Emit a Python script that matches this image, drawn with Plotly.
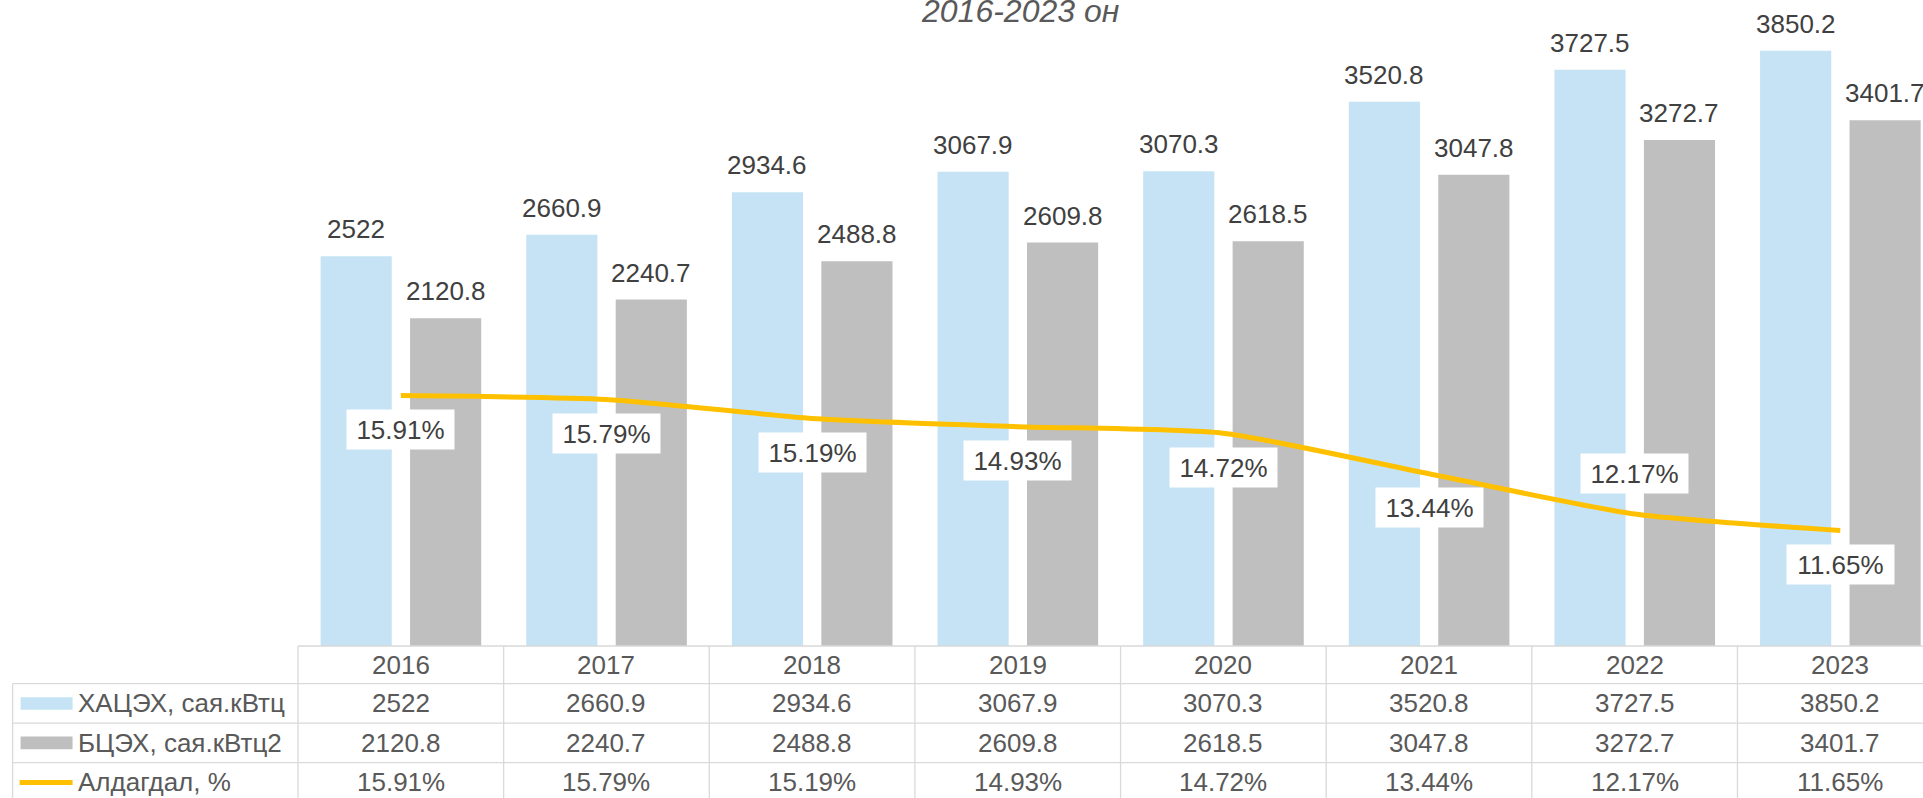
import plotly.graph_objects as go

# ---------------- data ----------------
years = [2016, 2017, 2018, 2019, 2020, 2021, 2022, 2023]
hatseh = [2522, 2660.9, 2934.6, 3067.9, 3070.3, 3520.8, 3727.5, 3850.2]
btseh = [2120.8, 2240.7, 2488.8, 2609.8, 2618.5, 3047.8, 3272.7, 3401.7]
loss_pct = [15.91, 15.79, 15.19, 14.93, 14.72, 13.44, 12.17, 11.65]
series_names = ["ХАЦЭХ, сая.кВтц", "БЦЭХ, сая.кВтц2", "Алдагдал, %"]
title_text = "2016-2023 он"

# ---------------- geometry / style ----------------
W, H = 1923, 798
PLOT_LEFT = 297.5
PLOT_BOTTOM = 646.3
CAT_PX = 205.7
X_MIN = years[0] - 0.5
X_MAX = X_MIN + (W - PLOT_LEFT) / CAT_PX
Y1_PX = 0.15466
Y2_PX = 31.67
Y2_MIN = 8.0

BLUE = "#C5E3F4"
GRAY = "#BFBFBF"
GOLD = "#FFC000"
GRID = "#D9D9D9"
TXT = "#404040"
FONT = "Liberation Sans, Arial, sans-serif"
FS = 26

BAR_W = 0.346
OFF_A = -0.390
OFF_B = 0.045
loss_label_shift = [-34, -34, -34, -34, -34, -34, 41, -34]


def px_x(px):
    return (px - PLOT_LEFT) / (W - PLOT_LEFT)


def px_y(py):
    return (PLOT_BOTTOM - py) / PLOT_BOTTOM


fig = go.Figure()
fig.add_bar(x=years, y=hatseh, width=BAR_W, offset=OFF_A, name=series_names[0],
            marker=dict(color=BLUE, line=dict(width=0)))
fig.add_bar(x=years, y=btseh, width=BAR_W, offset=OFF_B, name=series_names[1],
            marker=dict(color=GRAY, line=dict(width=0)))
fig.add_scatter(x=years, y=loss_pct, yaxis="y2", mode="lines", name=series_names[2],
                line=dict(color=GOLD, width=5, shape="spline", smoothing=0.6))

ann = []
font = dict(family=FONT, size=FS, color=TXT)
# bar value labels
for vals, off in ((hatseh, OFF_A), (btseh, OFF_B)):
    for yr, v in zip(years, vals):
        ann.append(dict(x=yr + off + BAR_W / 2, y=v, xref="x", yref="y", text=f"{v:g}",
                        showarrow=False, yanchor="middle", yshift=27, font=font))
# percent labels
for yr, p, sh in zip(years, loss_pct, loss_label_shift):
    ann.append(dict(x=yr, y=p, xref="x", yref="y2", text=f"{p:.2f}%", showarrow=False,
                    yanchor="middle", yshift=sh, font=font, bgcolor="white",
                    width=103, height=35, borderpad=2))

# title
ann.append(dict(x=px_x(1019.5), y=px_y(11.5), xref="paper", yref="paper",
                text=f"<i>{title_text}</i>", showarrow=False, xanchor="center", yanchor="middle",
                font=dict(family=FONT, size=32, color="#595959")))

# data table
row_lines = [646.3, 684.0, 723.5, 763.0, 802.5]
centers = [(row_lines[i] + row_lines[i + 1]) / 2 for i in range(4)]
table_rows = [
    [str(y) for y in years],
    [f"{v:g}" for v in hatseh],
    [f"{v:g}" for v in btseh],
    [f"{p:.2f}%" for p in loss_pct],
]
TFONT = dict(family=FONT, size=FS, color="#595959")
for r, row in enumerate(table_rows):
    for yr, t in zip(years, row):
        ann.append(dict(x=yr, y=px_y(centers[r]), xref="x", yref="paper", text=t,
                        showarrow=False, xanchor="center", yanchor="middle", font=TFONT))
for i, name in enumerate(series_names):
    ann.append(dict(x=px_x(75), y=px_y(centers[i + 1]), xref="paper", yref="paper",
                    text=name, showarrow=False, xanchor="left", yanchor="middle", font=TFONT))

shapes = []
lw = 1.3
# legend swatches
shapes.append(dict(type="rect", xref="paper", yref="paper", x0=px_x(20), x1=px_x(72),
                   y0=px_y(centers[1] - 6.3), y1=px_y(centers[1] + 6.3), fillcolor=BLUE, line=dict(width=0)))
shapes.append(dict(type="rect", xref="paper", yref="paper", x0=px_x(20), x1=px_x(72),
                   y0=px_y(centers[2] - 6.3), y1=px_y(centers[2] + 6.3), fillcolor=GRAY, line=dict(width=0)))
shapes.append(dict(type="line", xref="paper", yref="paper", x0=px_x(19), x1=px_x(72),
                   y0=px_y(centers[3]), y1=px_y(centers[3]), line=dict(color=GOLD, width=5)))
# grid lines
shapes.append(dict(type="line", xref="paper", yref="paper", x0=0, x1=1, y0=0, y1=0,
                   line=dict(color=GRID, width=lw)))
for yl in row_lines[1:4]:
    shapes.append(dict(type="line", xref="paper", yref="paper", x0=px_x(12), x1=1,
                       y0=px_y(yl), y1=px_y(yl), line=dict(color=GRID, width=lw)))
shapes.append(dict(type="line", xref="paper", yref="paper", x0=0, x1=0, y0=0, y1=px_y(800),
                   line=dict(color=GRID, width=lw)))
shapes.append(dict(type="line", xref="paper", yref="paper", x0=px_x(12), x1=px_x(12),
                   y0=px_y(row_lines[1]), y1=px_y(800), line=dict(color=GRID, width=lw)))
for yr in years:
    shapes.append(dict(type="line", xref="x", yref="paper", x0=yr + 0.5, x1=yr + 0.5,
                       y0=0, y1=px_y(800), line=dict(color=GRID, width=lw)))

fig.update_layout(
    width=W, height=H, autosize=False,
    margin=dict(l=PLOT_LEFT, r=0, t=0, b=H - PLOT_BOTTOM, pad=0),
    paper_bgcolor="white", plot_bgcolor="white",
    showlegend=False, barmode="overlay",
    xaxis=dict(visible=False, range=[X_MIN, X_MAX]),
    yaxis=dict(visible=False, range=[0, PLOT_BOTTOM / Y1_PX]),
    yaxis2=dict(visible=False, overlaying="y", range=[Y2_MIN, Y2_MIN + PLOT_BOTTOM / Y2_PX]),
    annotations=ann, shapes=shapes,
    font=dict(family=FONT),
)

fig.write_html("out.html", config={"displayModeBar": False},
               post_script="document.body.style.margin='0';document.body.style.overflow='hidden';")
